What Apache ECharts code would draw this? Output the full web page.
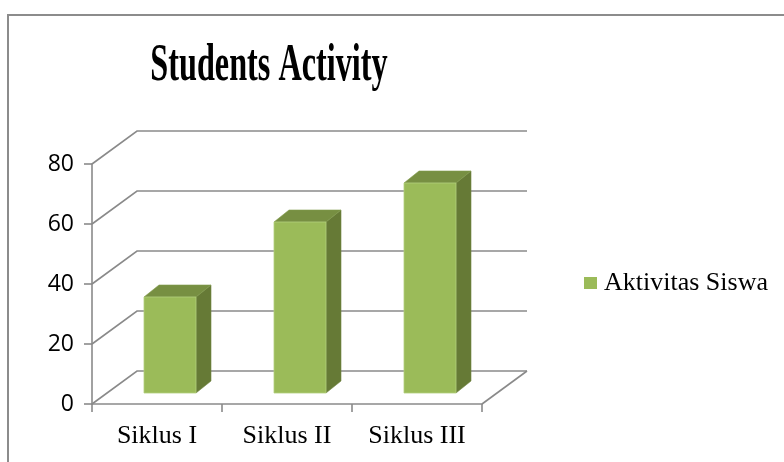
<!DOCTYPE html>
<html>
<head>
<meta charset="utf-8">
<script src="https://cdn.jsdelivr.net/npm/echarts@6/dist/echarts.min.js"></script>
<style>html,body{margin:0;padding:0;background:#fff}#c{width:784px;height:462px}</style>
</head>
<body>
<div id="c"></div>
<script>
var titleText = 'Students Activity';
var seriesName = 'Aktivitas Siswa';
var categories = ['Siklus I', 'Siklus II', 'Siklus III'];
var values = [32, 57, 70];
var yTicks = [0, 20, 40, 60, 80];

var DX = 45, DY = -33;          // wall depth offset
var FX = 13, FY = -11;          // bar front offset from front plane
var BX = 15, BY = -12;          // bar depth
var GRID_COLOR = '#8a8a8a';

var chart = echarts.init(document.getElementById('c'));

function gridRender(params, api) {
  var v = api.value(0);
  var bw = api.size([1, 0])[0];
  var pL = api.coord([0, v]);
  var pR = api.coord([categories.length - 1, v]);
  var lx = pL[0] - bw / 2, rx = pR[0] + bw / 2, y = pL[1];
  var children = [{
    type: 'polyline',
    shape: { points: [[lx, y], [lx + DX, y + DY], [rx + DX, y + DY]] },
    style: { stroke: GRID_COLOR, lineWidth: 1.6, fill: null }
  }];
  if (v === 0) {
    children.push({
      type: 'line',
      shape: { x1: rx, y1: y, x2: rx + DX, y2: y + DY },
      style: { stroke: GRID_COLOR, lineWidth: 1.6 }
    });
  }
  return { type: 'group', children: children };
}

function barRender(params, api) {
  var i = api.value(0), v = api.value(1);
  var bw = api.size([1, 0])[0];
  var w = bw * 0.4;
  var p0 = api.coord([i, 0]);
  var p1 = api.coord([i, v]);
  var x0 = p0[0] - w / 2 + FX, x1 = x0 + w;
  var yb = p0[1] + FY, yt = p1[1] + FY;
  return {
    type: 'group',
    children: [
      { type: 'polygon', shape: { points: [[x1, yt], [x1 + BX, yt + BY], [x1 + BX, yb + BY], [x1, yb]] },
        style: { fill: '#667a36', stroke: '#6f8540', lineWidth: 0.6 } },
      { type: 'polygon', shape: { points: [[x0, yt], [x1, yt], [x1 + BX, yt + BY], [x0 + BX, yt + BY]] },
        style: { fill: '#778f42', stroke: '#819a4b', lineWidth: 0.6 } },
      { type: 'rect', shape: { x: x0, y: yt, width: w, height: yb - yt },
        style: { fill: '#9bbb59', stroke: '#b3cf7e', lineWidth: 0.8 } }
    ]
  };
}

var option = {
  animation: false,
  backgroundColor: '#ffffff',
  graphic: [
    { type: 'rect', shape: { x: 8, y: 15, width: 800, height: 500 },
      style: { fill: null, stroke: '#8c8c8c', lineWidth: 2 }, z: 100 },
    { type: 'text', x: 269, y: 67, scaleX: 0.62, scaleY: 1,
      style: { text: titleText, font: 'bold 52px "Liberation Serif", "Times New Roman", serif',
               fill: '#000', align: 'center', verticalAlign: 'middle' } }
  ],
  legend: {
    left: 584, top: 270, padding: 0,
    icon: 'rect', itemWidth: 13, itemHeight: 12, itemGap: 10,
    data: [{ name: seriesName, itemStyle: { color: '#9bbb59' } }],
    textStyle: { fontFamily: '"Liberation Serif", "Times New Roman", serif', fontSize: 26, color: '#000', padding: [0, 0, 0, 2] }
  },
  grid: { left: 92, right: 302, top: 164, bottom: 58, containLabel: false },
  xAxis: {
    type: 'category', data: categories, boundaryGap: true,
    axisLine: { lineStyle: { color: GRID_COLOR, width: 1.6 } },
    axisTick: { show: true, length: 8, lineStyle: { color: GRID_COLOR, width: 1.6 } },
    axisLabel: { margin: 19, color: '#000', fontSize: 26, fontFamily: '"Liberation Serif", "Times New Roman", serif' },
    splitLine: { show: false }
  },
  yAxis: {
    type: 'value', min: 0, max: 80, interval: 20,
    axisLine: { show: true, lineStyle: { color: GRID_COLOR, width: 1.6 } },
    axisTick: { show: true, length: 8, lineStyle: { color: GRID_COLOR, width: 1.6 } },
    axisLabel: { margin: 18, color: '#000', fontSize: 23, fontFamily: '"Open Sans", "Noto Sans", sans-serif' },
    splitLine: { show: false }
  },
  series: [
    { type: 'custom', name: 'grid', renderItem: gridRender, silent: true, z: 1,
      data: yTicks.map(function (t) { return [t]; }), encode: { y: 0 }, clip: false },
    { type: 'custom', name: seriesName, renderItem: barRender, z: 2,
      itemStyle: { color: '#9bbb59' },
      data: values.map(function (v, i) { return [i, v]; }), encode: { x: 0, y: 1 }, clip: false }
  ]
};
chart.setOption(option);
</script>
</body>
</html>
